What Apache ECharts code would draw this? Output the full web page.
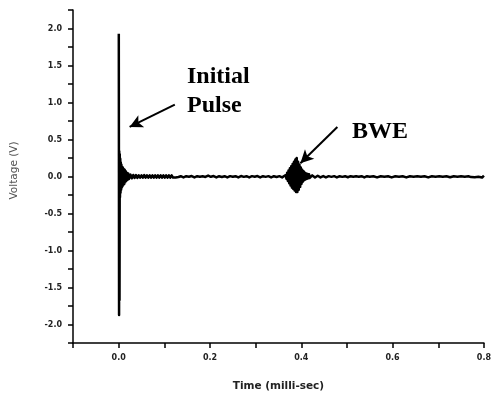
<!DOCTYPE html>
<html>
<head>
<meta charset="utf-8">
<script src="https://cdn.jsdelivr.net/npm/echarts@6/dist/echarts.min.js"></script>
<style>
html,body{margin:0;padding:0;background:#fff;}
#c{width:494px;height:398px;}
</style>
</head>
<body>
<div id="c"></div>
<script>
// ---- Data (time in milli-sec, voltage in V) ----
var pulseT = [0.0003,0.0009,0.0013,0.0019,0.0024,0.0029,0.0035,0.0041,0.0047,0.0054,0.0061,0.0068,0.0076,0.0084,0.0093,0.0102,0.0112,0.0122,0.0133,0.0144,0.0156,0.0168,0.0181,0.0195,0.0210,0.0225];
var pulseV = [1.93,-1.87,0.34,-1.67,0.30,-0.28,0.24,-0.22,0.19,-0.18,0.16,-0.15,0.13,-0.13,0.12,-0.11,0.10,-0.10,0.09,-0.08,0.07,-0.06,0.05,-0.045,0.04,-0.035];

var ringT = [0.026,0.029,0.032,0.035,0.038,0.041,0.044,0.047,0.050,0.053,0.056,0.059,0.062,0.065,0.068,0.071,0.074,0.077,0.080,0.083,0.086,0.089,0.092,0.095,0.098,0.101,0.104,0.107,0.110,0.113,0.116,0.119,0.122,0.125,0.128,0.131];
var ringV = [0.026,-0.024,0.02,-0.019,0.018,-0.018,0.017,-0.017,0.017,-0.017,0.018,-0.017,0.017,-0.017,0.017,-0.017,0.016,-0.017,0.017,-0.016,0.016,-0.017,0.016,-0.016,0.016,-0.016,0.015,-0.016,0.015,-0.015,0.015,-0.014,0.013,-0.012,0.010,-0.007];

var baseT = [0.136,0.142,0.148,0.154,0.160,0.166,0.172,0.178,0.184,0.190,0.196,0.202,0.208,0.214,0.220,0.226,0.232,0.238,0.244,0.250,0.256,0.262,0.268,0.274,0.280,0.286,0.292,0.298,0.304,0.310,0.316,0.322,0.328,0.334,0.340,0.346,0.352,0.358,0.362];
var baseV = [0.004,-0.012,0.004,-0.004,0.006,-0.012,0.004,-0.004,0.004,-0.006,0.012,-0.004,0.006,-0.012,0.004,-0.006,0.004,-0.012,0.005,-0.004,0.004,-0.012,0.006,-0.005,0.004,-0.012,0.005,-0.004,0.006,-0.012,0.004,-0.005,0.005,-0.012,0.004,-0.006,0.005,-0.012,0.004];

var bweT = [0.366,0.3675,0.369,0.3705,0.372,0.3735,0.375,0.3765,0.378,0.3795,0.381,0.3825,0.384,0.3855,0.387,0.3885,0.390,0.3915,0.393,0.3945,0.396,0.3975,0.399,0.4005,0.402,0.4035,0.405,0.4065,0.408,0.4095,0.411,0.4125,0.414,0.4155,0.417,0.4185];
var bweV = [0.02,-0.03,0.05,-0.06,0.08,-0.09,0.11,-0.12,0.14,-0.15,0.17,-0.17,0.20,-0.19,0.23,-0.21,0.25,-0.21,0.20,-0.18,0.16,-0.14,0.12,-0.10,0.09,-0.07,0.07,-0.05,0.05,-0.04,0.04,-0.03,0.035,-0.025,0.03,-0.02];

var tailT = [0.424,0.430,0.436,0.442,0.448,0.454,0.460,0.466,0.472,0.478,0.484,0.490,0.496,0.502,0.508,0.514,0.520,0.526,0.532,0.538,0.544,0.550,0.558,0.566,0.574,0.582,0.590,0.598,0.606,0.614,0.622,0.630,0.638,0.646,0.654,0.662,0.670,0.678,0.686,0.694,0.702,0.710,0.718,0.726,0.734,0.742,0.750,0.758,0.766,0.772,0.776,0.780,0.784,0.788,0.792,0.796,0.800];
var tailV = [0.015,-0.014,0.010,-0.012,0.006,-0.012,0.005,-0.005,0.005,-0.012,0.004,-0.005,0.004,-0.010,0.004,-0.004,0.004,-0.004,0.004,-0.012,0.004,-0.004,0.004,-0.012,0.004,-0.004,0.004,-0.012,0.003,-0.004,0.003,-0.012,0.003,-0.003,0.003,-0.004,0.003,-0.012,0.003,-0.003,0.003,-0.003,0.003,-0.010,0.003,-0.003,0.003,-0.003,0.003,-0.008,0.006,-0.010,0.003,-0.003,0.016,-0.014,0.012];

var xTickLabels = ['0.0','0.2','0.4','0.6','0.8'];
var yTickLabels = ['-2.0','-1.5','-1.0','-0.5','0.0','0.5','1.0','1.5','2.0'];

function pairs(t, v){ var out=[]; for (var i=0;i<t.length;i++) out.push([t[i], v[i]]); return out; }
var trace = [].concat(pairs(pulseT,pulseV), pairs(ringT,ringV), pairs(baseT,baseV), pairs(bweT,bweV), pairs(tailT,tailV));

var chart = echarts.init(document.getElementById('c'), null, {renderer:'canvas'});
var tickFont = {fontFamily:'"DejaVu Sans", sans-serif', fontWeight:'bold', fontSize:8, color:'#222'};

function fmt(list){
  return function(v){
    var s = (Math.abs(v) < 1e-9 ? 0 : v).toFixed(1);
    return (list.indexOf(s) >= 0 && Math.abs(v - parseFloat(s)) < 1e-6) ? s : '';
  };
}

chart.setOption({
  animation:false,
  backgroundColor:'#fff',
  grid:{left:73, right:6, top:10, bottom:55, containLabel:false},
  xAxis:{
    type:'value', min:-0.1, max:0.8, interval:0.1,
    name:'Time (milli-sec)', nameLocation:'middle', nameGap:38,
    nameTextStyle:{fontFamily:'"DejaVu Sans", sans-serif', fontWeight:'bold', fontSize:10.5, color:'#222'},
    axisLine:{show:true, onZero:false, lineStyle:{color:'#000', width:1.5}},
    axisTick:{show:true, inside:false, length:5, lineStyle:{color:'#000', width:1.5}},
    axisLabel:Object.assign({margin:11, hideOverlap:false, showMinLabel:true, showMaxLabel:true, formatter:fmt(xTickLabels)}, tickFont),
    splitLine:{show:false}
  },
  yAxis:{
    type:'value', min:-2.25, max:2.25, interval:0.25,
    name:'Voltage (V)', nameLocation:'middle', nameGap:53, nameRotate:90,
    nameTextStyle:{fontFamily:'"DejaVu Sans", sans-serif', fontSize:10.5, color:'#555', padding:[0,0,0,12]},
    axisLine:{show:true, onZero:false, lineStyle:{color:'#000', width:1.5}},
    axisTick:{show:true, inside:false, length:5, lineStyle:{color:'#000', width:1.5}},
    axisLabel:Object.assign({margin:11, hideOverlap:false, formatter:fmt(yTickLabels)}, tickFont),
    splitLine:{show:false}
  },
  series:[{
    type:'line', data:trace, showSymbol:false, symbol:'none', sampling:null,
    lineStyle:{color:'#000', width:2.5, join:'round'}, clip:true,
    markLine:{
      silent:true, animation:false,
      symbol:['none','arrow'], symbolSize:[10,13],
      lineStyle:{color:'#000', width:2, type:'solid'},
      label:{show:false},
      data:[
        [{coord:[0.123,0.97]},{coord:[0.024,0.67]}],
        [{coord:[0.479,0.67]},{coord:[0.398,0.18]}]
      ]
    }
  }],
  graphic:[
    {type:'text', left:187, top:62, silent:true,
     style:{text:'Initial\nPulse', font:'bold 24px "Liberation Serif", "Times New Roman", serif', fill:'#000', lineHeight:29}},
    {type:'text', left:352, top:117, silent:true,
     style:{text:'BWE', font:'bold 24px "Liberation Serif", "Times New Roman", serif', fill:'#000', lineHeight:29}}
  ]
});
</script>
</body>
</html>
